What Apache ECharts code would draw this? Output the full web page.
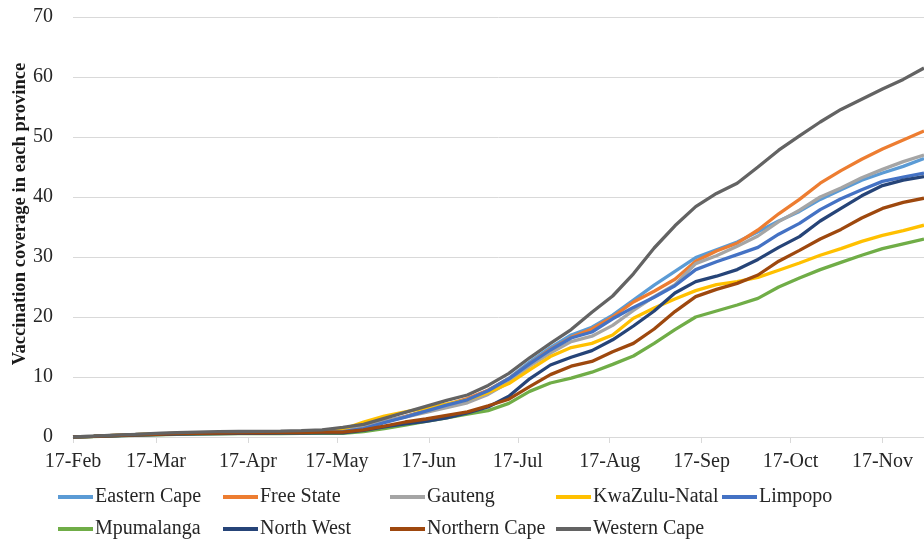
<!DOCTYPE html>
<html>
<head>
<meta charset="utf-8">
<script src="https://cdn.jsdelivr.net/npm/echarts@6/dist/echarts.min.js"></script>
<style>
html,body{margin:0;padding:0;background:#fff;}
#chart{width:924px;height:543px;}
</style>
</head>
<body>
<div id="chart"></div>
<script>
// Days since 17-Feb (weekly samples)
const days = [0,7,14,21,28,35,42,49,56,63,70,77,84,91,98,105,112,119,126,133,140,147,154,161,168,175,182,189,196,203,210,217,224,231,238,245,252,259,266,273,280,287];
// Month tick positions (days since 17-Feb) and labels
const tickDays = [0,28,59,89,120,150,181,212,242,273];
const tickLabels = ['17-Feb','17-Mar','17-Apr','17-May','17-Jun','17-Jul','17-Aug','17-Sep','17-Oct','17-Nov'];

const provinces = ['Eastern Cape','Free State','Gauteng','KwaZulu-Natal','Limpopo','Mpumalanga','North West','Northern Cape','Western Cape'];

const easternCape = [0,0.12,0.25,0.38,0.5,0.6,0.68,0.72,0.76,0.78,0.8,0.83,0.88, 1.0,1.6,2.6,3.4,4.4,5.3,6.3,7.8,9.8,12.5,14.9,17.0,18.3,20.3,22.8,25.3,27.6,29.9,31.2,32.5,34.2,36.0,37.6,39.6,41.2,42.8,44.0,45.1,46.4];
const freeState = [0,0.12,0.26,0.4,0.52,0.62,0.7,0.74,0.77,0.79,0.81,0.84,0.9, 1.0,1.5,2.5,3.4,4.3,5.4,6.4,7.8,9.7,12.2,14.6,16.6,18.0,20.0,22.5,24.3,26.3,29.3,31.0,32.3,34.5,37.2,39.6,42.3,44.4,46.3,48.0,49.5,51.0];
const gauteng = [0,0.13,0.28,0.42,0.55,0.65,0.72,0.76,0.8,0.82,0.85,0.9,0.98, 1.1,1.7,2.6,3.3,4.1,4.9,5.7,7.1,9.1,11.8,14.0,15.9,16.8,18.6,21.1,23.4,25.4,28.9,30.2,31.8,33.5,35.9,37.8,40.0,41.5,43.2,44.6,45.9,47.0];
const kwazuluNatal = [0,0.12,0.25,0.38,0.5,0.6,0.68,0.72,0.76,0.79,0.83,0.9,1.05, 1.3,2.5,3.5,4.2,4.8,5.5,6.2,7.4,8.9,11.2,13.4,14.9,15.6,17.0,19.8,21.5,23.0,24.4,25.4,25.9,26.6,27.8,29.0,30.3,31.4,32.6,33.6,34.4,35.3];
const limpopo = [0,0.1,0.22,0.34,0.45,0.54,0.6,0.64,0.67,0.69,0.71,0.74,0.8, 0.9,1.4,2.4,3.3,4.3,5.3,6.2,7.7,9.7,12.2,14.5,16.5,17.5,19.7,21.6,23.3,25.2,27.9,29.2,30.4,31.6,33.8,35.6,37.9,39.7,41.2,42.6,43.3,44.0];
const mpumalanga = [0,0.08,0.18,0.28,0.37,0.44,0.5,0.53,0.55,0.57,0.58,0.6,0.63, 0.6,0.9,1.4,2.0,2.6,3.2,3.8,4.4,5.6,7.6,9.0,9.8,10.8,12.1,13.5,15.6,17.9,20.0,21.0,22.0,23.1,25.0,26.5,27.9,29.1,30.3,31.4,32.2,33.0];
const northWest = [0,0.09,0.2,0.3,0.4,0.48,0.54,0.57,0.6,0.62,0.63,0.65,0.68, 0.7,1.1,1.7,2.2,2.6,3.2,4.0,5.0,6.8,9.7,12.0,13.3,14.4,16.2,18.5,21.0,24.0,25.9,26.8,27.9,29.6,31.6,33.4,36.0,38.1,40.2,41.9,42.8,43.4];
const northernCape = [0,0.1,0.22,0.34,0.45,0.55,0.62,0.66,0.69,0.71,0.73,0.75,0.8, 0.8,1.2,1.8,2.5,3.0,3.6,4.2,5.2,6.3,8.4,10.4,11.8,12.6,14.2,15.6,18.0,20.9,23.4,24.6,25.6,27.0,29.3,31.1,33.0,34.6,36.5,38.1,39.1,39.8];
const westernCape = [0,0.15,0.3,0.45,0.62,0.72,0.82,0.88,0.92,0.95,0.98,1.05,1.2, 1.6,2.1,3.1,4.1,5.1,6.1,7.0,8.6,10.6,13.2,15.6,17.9,20.8,23.5,27.2,31.5,35.2,38.4,40.6,42.3,45.0,47.8,50.2,52.5,54.6,56.3,58.0,59.6,61.5];

const seriesValues = [easternCape, freeState, gauteng, kwazuluNatal, limpopo, mpumalanga, northWest, northernCape, westernCape];
const colors = ['#5B9BD5','#ED7D31','#A5A5A5','#FFC000','#4472C4','#70AD47','#264478','#9E480E','#636363'];

const serif = "'Liberation Serif','Times New Roman',Times,serif";

const chart = echarts.init(document.getElementById('chart'), null, {renderer:'canvas'});

const legendPos = [
  [58,487],[223,487],[390,487],[556,487],[722,487],
  [58,519],[223,519],[390,519],[556,519]
];

const option = {
  animation: false,
  backgroundColor: '#fff',
  color: colors,
  grid: {left: 73, right: 0, top: 17, bottom: 106, containLabel: false},
  xAxis: {
    type: 'value', min: 0, max: 287,
    axisLine: {show: true, lineStyle: {color: '#d9d9d9', width: 1}},
    axisTick: {show: true, length: 6, lineStyle: {color: '#d9d9d9'}, customValues: tickDays},
    axisLabel: {
      customValues: tickDays,
      margin: 15,
      fontFamily: serif, fontSize: 20, color: '#262626',
      formatter: function (v) { const i = tickDays.indexOf(v); return i >= 0 ? tickLabels[i] : ''; }
    },
    splitLine: {show: false}
  },
  yAxis: {
    type: 'value', min: 0, max: 70, interval: 10,
    axisLine: {show: false}, axisTick: {show: false},
    axisLabel: {margin: 20, fontFamily: serif, fontSize: 20, color: '#262626'},
    splitLine: {lineStyle: {color: '#d9d9d9', width: 1}}
  },
  graphic: [{
    type: 'text', x: 20, y: 214, rotation: Math.PI / 2,
    style: {text: 'Vaccination coverage in each province', font: 'bold 18.6px ' + serif, fill: '#1a1a1a', align: 'center', verticalAlign: 'middle'}
  }],
  legend: provinces.map(function (p, i) {
    return {
      data: [p], left: legendPos[i][0], top: legendPos[i][1], padding: 0,
      icon: 'rect', itemWidth: 35, itemHeight: 4, itemGap: 0,
      textStyle: {fontFamily: serif, fontSize: 20, color: '#262626', padding: [0,0,0,-3]}
    };
  }),
  series: provinces.map(function (p, i) {
    return {
      name: p, type: 'line', showSymbol: false, symbol: 'none',
      lineStyle: {width: 3.3, color: colors[i]},
      itemStyle: {color: colors[i]},
      data: days.map(function (d, j) { return [d, seriesValues[i][j]]; })
    };
  })
};
chart.setOption(option);
</script>
</body>
</html>
